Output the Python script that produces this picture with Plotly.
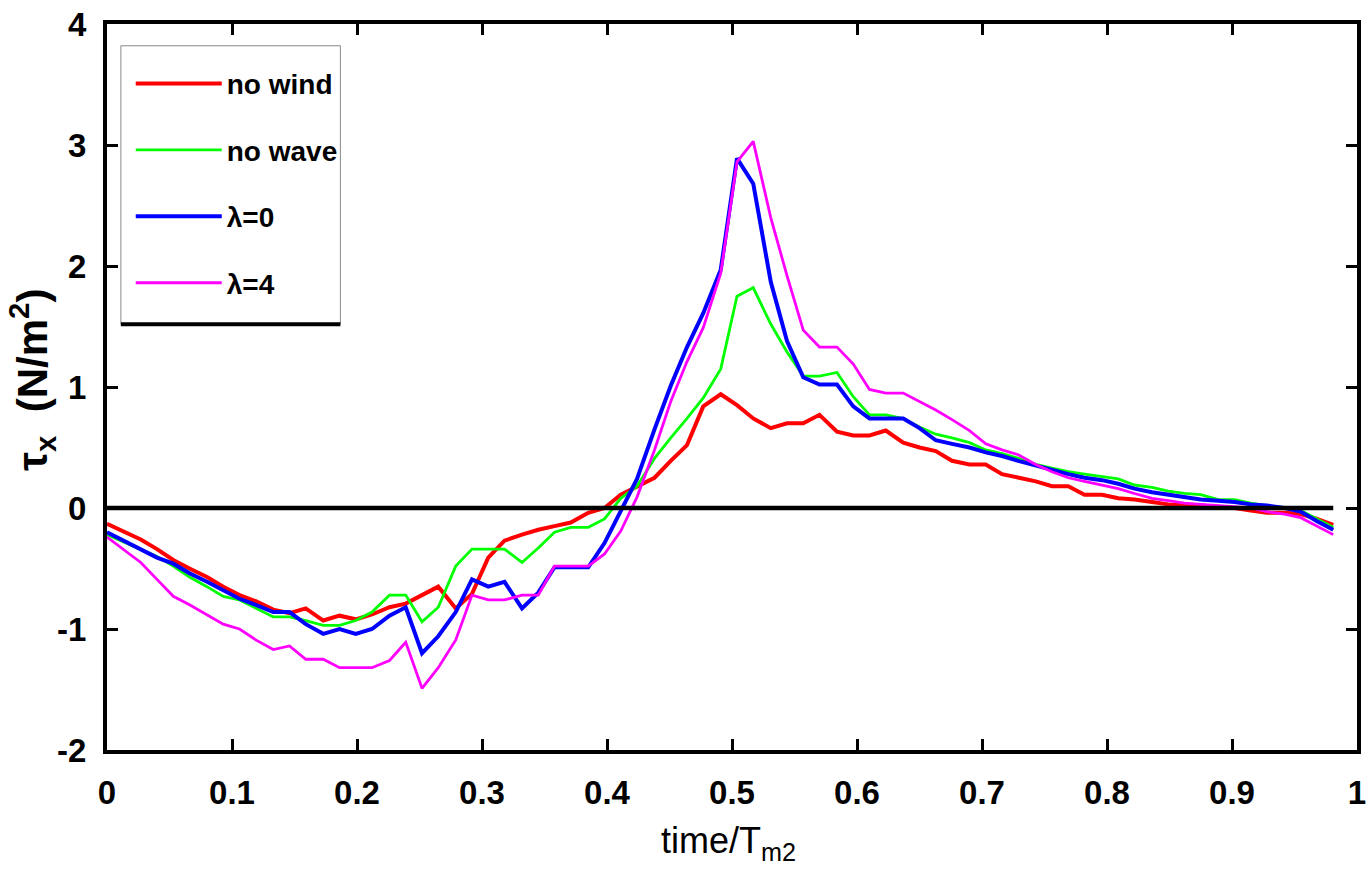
import plotly.graph_objects as go

time = [0.000, 0.013, 0.027, 0.040, 0.053, 0.066, 0.080, 0.093, 0.106, 0.119,
        0.133, 0.146, 0.159, 0.173, 0.186, 0.199, 0.212, 0.226, 0.239, 0.252,
        0.265, 0.279, 0.292, 0.305, 0.318, 0.332, 0.345, 0.358, 0.371, 0.385,
        0.398, 0.411, 0.424, 0.438, 0.451, 0.464, 0.477, 0.491, 0.504, 0.517,
        0.531, 0.544, 0.557, 0.570, 0.584, 0.597, 0.610, 0.623, 0.637, 0.650,
        0.663, 0.676, 0.690, 0.703, 0.716, 0.729, 0.743, 0.756, 0.769, 0.782,
        0.796, 0.809, 0.822, 0.836, 0.849, 0.862, 0.875, 0.889, 0.902, 0.915,
        0.928, 0.942, 0.955, 0.968, 0.981]

no_wind = [-0.13, -0.19, -0.26, -0.34, -0.43, -0.50, -0.57, -0.65, -0.72, -0.77,
           -0.84, -0.87, -0.83, -0.93, -0.89, -0.92, -0.88, -0.82, -0.79, -0.72,
           -0.65, -0.83, -0.71, -0.41, -0.27, -0.22, -0.18, -0.15, -0.12, -0.04,
           0.00, 0.11, 0.18, 0.25, 0.39, 0.52, 0.84, 0.94, 0.85, 0.74,
           0.66, 0.70, 0.70, 0.77, 0.63, 0.60, 0.60, 0.64, 0.54, 0.50,
           0.47, 0.39, 0.36, 0.36, 0.28, 0.25, 0.22, 0.18, 0.18, 0.11,
           0.11, 0.08, 0.07, 0.05, 0.03, 0.02, 0.02, 0.01, 0.00, -0.02,
           -0.04, -0.04, -0.05, -0.09, -0.14]

no_wave = [-0.22, -0.28, -0.34, -0.40, -0.48, -0.57, -0.65, -0.73, -0.76, -0.83,
           -0.90, -0.90, -0.93, -0.97, -0.97, -0.93, -0.86, -0.72, -0.72, -0.94,
           -0.82, -0.48, -0.34, -0.34, -0.34, -0.45, -0.33, -0.20, -0.16, -0.16,
           -0.09, 0.08, 0.18, 0.41, 0.58, 0.74, 0.91, 1.15, 1.75, 1.82,
           1.52, 1.29, 1.09, 1.09, 1.12, 0.92, 0.77, 0.77, 0.74, 0.67,
           0.61, 0.58, 0.54, 0.48, 0.45, 0.41, 0.36, 0.33, 0.30, 0.28,
           0.26, 0.24, 0.19, 0.17, 0.14, 0.12, 0.11, 0.07, 0.07, 0.04,
           0.02, 0.00, -0.02, -0.09, -0.16]

lam0 = [-0.20, -0.27, -0.34, -0.41, -0.46, -0.54, -0.61, -0.68, -0.75, -0.80,
        -0.86, -0.86, -0.96, -1.04, -1.00, -1.04, -1.00, -0.89, -0.82, -1.20,
        -1.06, -0.86, -0.59, -0.65, -0.61, -0.83, -0.70, -0.49, -0.49, -0.49,
        -0.29, -0.02, 0.24, 0.65, 1.01, 1.33, 1.61, 1.97, 2.89, 2.68,
        1.87, 1.38, 1.08, 1.02, 1.02, 0.84, 0.74, 0.74, 0.74, 0.66,
        0.56, 0.53, 0.50, 0.46, 0.43, 0.39, 0.35, 0.32, 0.28, 0.25,
        0.23, 0.20, 0.16, 0.13, 0.11, 0.09, 0.07, 0.06, 0.05, 0.03,
        0.02, 0.00, -0.03, -0.11, -0.18]

lam4 = [-0.24, -0.34, -0.45, -0.59, -0.73, -0.80, -0.88, -0.96, -1.00, -1.09,
        -1.17, -1.14, -1.25, -1.25, -1.32, -1.32, -1.32, -1.26, -1.11, -1.49,
        -1.32, -1.09, -0.72, -0.76, -0.76, -0.72, -0.72, -0.48, -0.48, -0.48,
        -0.38, -0.19, 0.09, 0.48, 0.88, 1.21, 1.49, 1.94, 2.86, 3.03,
        2.40, 1.92, 1.47, 1.33, 1.33, 1.19, 0.98, 0.95, 0.95, 0.88,
        0.81, 0.73, 0.64, 0.53, 0.48, 0.44, 0.36, 0.30, 0.25, 0.22,
        0.19, 0.16, 0.12, 0.08, 0.06, 0.04, 0.03, 0.02, 0.01, 0.00,
        -0.03, -0.05, -0.08, -0.15, -0.22]

series_names = ["no wind", "no wave", "λ=0", "λ=4"]
series_data = [no_wind, no_wave, lam0, lam4]
series_colors = ["#ff0000", "#00ff00", "#0000ff", "#ff00ff"]
series_widths = [4, 2.8, 4, 2.8]

x_ticks = [0, 0.1, 0.2, 0.3, 0.4, 0.5, 0.6, 0.7, 0.8, 0.9, 1]
x_ticklabels = ["0", "0.1", "0.2", "0.3", "0.4", "0.5", "0.6", "0.7", "0.8", "0.9", "1"]
y_ticks = [-2, -1, 0, 1, 2, 3, 4]
y_ticklabels = ["-2", "-1", "0", "1", "2", "3", "4"]

FONT = "Liberation Sans, Arial, sans-serif"

fig = go.Figure()
for name, ys, col, w in zip(series_names, series_data, series_colors, series_widths):
    fig.add_trace(go.Scatter(x=time, y=ys, mode="lines", name=name,
                             legendgroup=name,
                             line=dict(color=col, width=w)))

# zero reference line
fig.add_shape(type="line", xref="x", yref="y", x0=time[0], x1=time[-1], y0=0, y1=0,
              line=dict(color="black", width=4.5), layer="above")

# legend box (drawn as a shape so its size matches the original)
fig.add_shape(type="rect", xref="paper", yref="paper",
              x0=0.0111, x1=0.1867, y0=0.5863, y1=0.970,
              fillcolor="white", line=dict(color="#888888", width=1), layer="above")
fig.add_shape(type="line", xref="paper", yref="paper", x0=0.0111, x1=0.1867,
              y0=0.5863, y1=0.5863, line=dict(color="black", width=4), layer="above")

axis_common = dict(showline=True, linecolor="black", linewidth=4, mirror="allticks",
                   ticks="inside", ticklen=11, tickwidth=3, tickcolor="black",
                   showgrid=False, zeroline=False,
                   tickfont=dict(family=FONT, size=33, color="black", weight="bold"))

fig.update_xaxes(range=[0, 1], tickvals=x_ticks, ticktext=x_ticklabels,
                 ticklabelstandoff=10, **axis_common)
fig.update_yaxes(range=[-2, 4], tickvals=y_ticks, ticktext=y_ticklabels,
                 ticklabelstandoff=10, **axis_common)

fig.add_annotation(text="τ<sub>x</sub>  (N/m<sup>2</sup>)", xref="paper", yref="paper",
                   x=-0.060, y=0.51, textangle=-90, showarrow=False,
                   xanchor="center", yanchor="middle",
                   font=dict(family=FONT, size=42, color="black", weight="bold"))
fig.add_annotation(text="time/T<sub>m2</sub>", xref="paper", yref="paper",
                   x=0.497, y=-0.128, showarrow=False,
                   xanchor="center", yanchor="middle",
                   font=dict(family=FONT, size=36, color="black"))

fig.update_layout(
    width=1372, height=889,
    margin=dict(l=107, r=6, t=20, b=139),
    paper_bgcolor="white", plot_bgcolor="white",
    showlegend=True,
    legend=dict(x=0.019, y=0.952, xanchor="left", yanchor="top",
                bgcolor="rgba(0,0,0,0)", borderwidth=0,
                itemwidth=86, tracegroupgap=27, traceorder="grouped",
                font=dict(family=FONT, size=28, color="black", weight="bold")),
)

fig.write_html("out.html")
